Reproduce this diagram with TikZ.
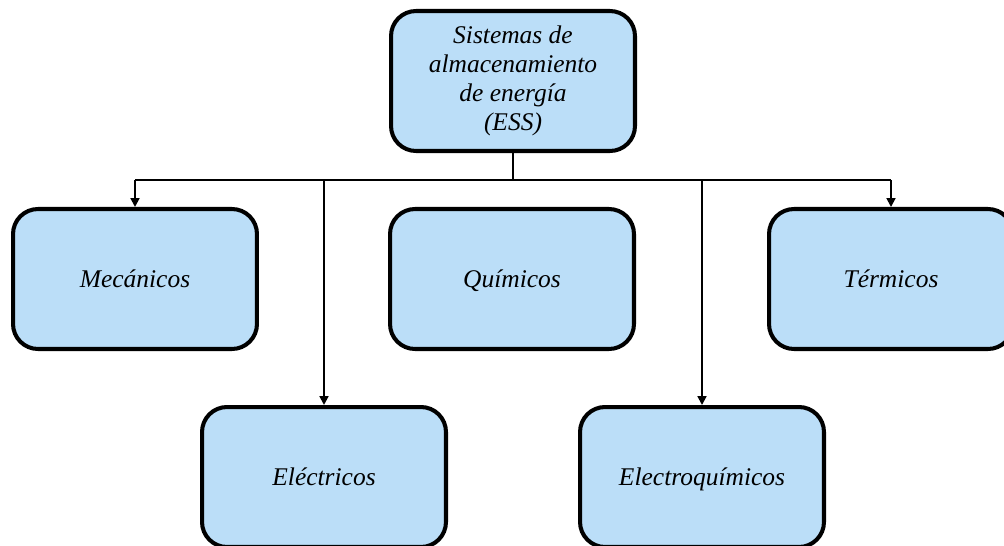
\documentclass[tikz,border=0pt]{standalone}
\usepackage{fontspec}
\setmainfont{Liberation Serif}
\usepackage{tikz}
\usetikzlibrary{arrows.meta}

\definecolor{boxblue}{RGB}{187,222,248}

\tikzset{
    essbox/.style={draw, fill=boxblue, line width=2.3pt, rounded corners=0.5cm,
        minimum width=4.88cm, minimum height=2.8cm, align=center,
        font=\itshape\fontsize{14.5}{16.5}\selectfont},
    leafbox/.style={essbox, text height=2.2ex, text depth=0.2ex},
    link/.style={line width=1.1pt},
    tolink/.style={link, -{Triangle[length=5pt,width=5pt]}}
}

\begin{document}
\begin{tikzpicture}[x=0.02cm, y=-0.02cm]
    \useasboundingbox (0,0) rectangle (1004,545);
    % raiz
    \node[essbox] (ess) at (513,81) {Sistemas de\\almacenamiento\\de energía\\(ESS)};
    % fila superior
    \node[leafbox] (mec) at (135,279) {Mecánicos};
    \node[leafbox] (qui) at (512,279) {Químicos};
    \node[leafbox] (ter) at (891,279) {Térmicos};
    % fila inferior
    \node[leafbox] (ele) at (324,477) {Eléctricos};
    \node[leafbox] (elq) at (702,477) {Electroquímicos};
    % conexiones
    \coordinate (bus) at (513,180);
    \draw[link] (ess.south) -- (bus);
    \draw[link] (bus -| mec.north) -- (bus -| ter.north);
    \foreach \n in {mec,ter,ele,elq}
        \draw[tolink] (bus -| \n.north) -- (\n.north);
\end{tikzpicture}
\end{document}
